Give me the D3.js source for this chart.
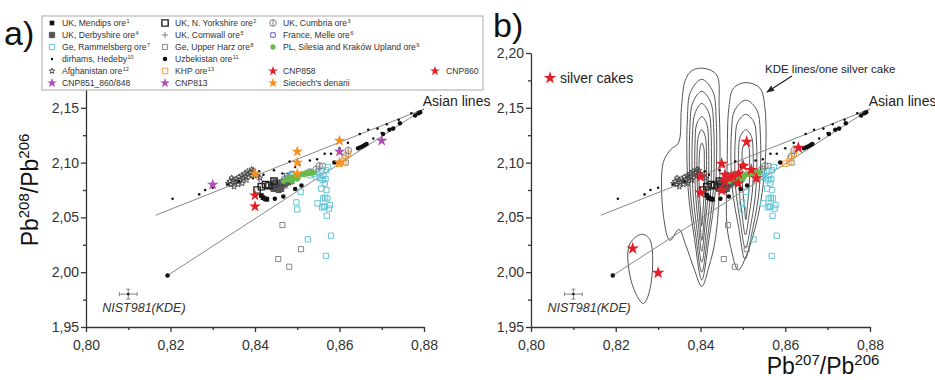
<!DOCTYPE html>
<html>
<head>
<meta charset="utf-8">
<script src="https://cdn.jsdelivr.net/npm/d3@7"></script>
<style>
  body { margin: 0; background: #fff; }
  svg { font-family: Arial, "Liberation Sans", sans-serif; }
</style>
</head>
<body>
<svg id="chart" width="935" height="380"></svg>
<script>
// ---- data ----
const xTicks = [0.80, 0.82, 0.84, 0.86, 0.88];
const yTicks = [1.95, 2.00, 2.05, 2.10, 2.15, 2.20];
const xMinor = [0.81, 0.83, 0.85, 0.87];
const yMinor = [1.975, 2.025, 2.075, 2.125, 2.175];

const asianUpper = [[0.8165, 2.052], [0.8800, 2.149]];
const asianLower = [[0.8193, 1.997], [0.8800, 2.149]];

const nist = [0.8100, 1.980];
const nistErr = [0.0021, 0.0045];

const mendips = [[0.8419, 2.068], [0.8424, 2.067], [0.8415, 2.070], [0.8428, 2.0665]];
const nYorkshire = [[0.8405, 2.075], [0.8415, 2.078], [0.8425, 2.080], [0.8433, 2.079], [0.8445, 2.083]];
const cumbria = [[0.8621, 2.111], [0.8615, 2.106], [0.8552, 2.097], [0.8545, 2.094], [0.8470, 2.085]];
const derbyshire = [[0.8440, 2.078], [0.8444, 2.076], [0.8447, 2.079], [0.8450, 2.077], [0.8452, 2.080],
  [0.8455, 2.078], [0.8458, 2.081], [0.8460, 2.079], [0.8463, 2.082], [0.8466, 2.080], [0.8469, 2.083],
  [0.8472, 2.081], [0.8475, 2.084], [0.8478, 2.082], [0.8482, 2.085], [0.8486, 2.083], [0.8448, 2.082],
  [0.8456, 2.075], [0.8462, 2.076], [0.8443, 2.081]];
const cornwall = [[0.8380, 2.090], [0.8395, 2.087], [0.8410, 2.085], [0.8460, 2.082], [0.8475, 2.080]];
const melle = [[0.8475, 2.088], [0.8488, 2.090], [0.8530, 2.092]];
const rammelsberg = [[0.8482, 2.0886], [0.8508, 2.0734], [0.8498, 2.0637], [0.8500, 2.0573], [0.8525, 2.030],
  [0.8548, 2.0628], [0.8557, 2.0763], [0.8565, 2.081], [0.8569, 2.0749], [0.8566, 2.068], [0.8561, 2.0673],
  [0.8571, 2.0673], [0.8577, 2.0612], [0.8565, 2.0597], [0.8559, 2.0591], [0.8570, 2.0515], [0.8580, 2.0333],
  [0.8568, 2.0148], [0.8563, 2.060], [0.8575, 2.058], [0.8530, 2.0885], [0.8540, 2.090], [0.8550, 2.0915],
  [0.8558, 2.0925], [0.8562, 2.088], [0.8573, 2.096], [0.8568, 2.093], [0.8553, 2.086], [0.8545, 2.087],
  [0.8560, 2.084], [0.8567, 2.085]];
const upperHarz = [[0.8465, 2.043], [0.8509, 2.021], [0.8455, 2.012], [0.8481, 2.005], [0.8445, 2.078],
  [0.8455, 2.077], [0.8470, 2.079], [0.8560, 2.097], [0.8615, 2.100]];
const silesia = [[0.8468, 2.083], [0.8474, 2.085], [0.8480, 2.084], [0.8485, 2.086], [0.8490, 2.087],
  [0.8494, 2.086], [0.8498, 2.088], [0.8503, 2.087], [0.8507, 2.089], [0.8512, 2.090], [0.8517, 2.089],
  [0.8522, 2.091], [0.8528, 2.090], [0.8533, 2.092], [0.8538, 2.091], [0.8478, 2.087], [0.8488, 2.083],
  [0.8500, 2.085]];
const dirhams = [[0.8205, 2.067], [0.8268, 2.071], [0.8282, 2.075], [0.8300, 2.077], [0.8335, 2.080],
  [0.8362, 2.083], [0.8395, 2.086], [0.8410, 2.092], [0.8420, 2.089], [0.8445, 2.093], [0.8465, 2.090],
  [0.8482, 2.101], [0.8495, 2.096], [0.8505, 2.098], [0.8530, 2.102], [0.8547, 2.103], [0.8565, 2.108],
  [0.8580, 2.108], [0.8600, 2.113], [0.8620, 2.118], [0.8648, 2.126], [0.8668, 2.130], [0.8690, 2.131],
  [0.8712, 2.135], [0.8740, 2.139], [0.8770, 2.145], [0.8680, 2.122], [0.8700, 2.127]];
const uzbekistan = [[0.8193, 1.997], [0.8447, 2.067], [0.8467, 2.069], [0.8510, 2.079], [0.8495, 2.076],
  [0.8588, 2.100], [0.8644, 2.113], [0.8650, 2.114], [0.8655, 2.115], [0.8660, 2.116], [0.8664, 2.117],
  [0.8703, 2.126], [0.8718, 2.130], [0.8727, 2.131], [0.8743, 2.136], [0.8779, 2.143], [0.8787, 2.145],
  [0.8791, 2.146]];
const afghanistan = [[0.8336, 2.081], [0.8340, 2.083], [0.8344, 2.080], [0.8348, 2.084], [0.8352, 2.082],
  [0.8355, 2.085], [0.8358, 2.083], [0.8362, 2.087], [0.8365, 2.084], [0.8368, 2.088], [0.8372, 2.086],
  [0.8375, 2.090], [0.8378, 2.087], [0.8382, 2.092], [0.8385, 2.089], [0.8388, 2.091], [0.8392, 2.088],
  [0.8396, 2.093], [0.8400, 2.090], [0.8405, 2.088], [0.8412, 2.086], [0.8350, 2.078], [0.8370, 2.081],
  [0.8345, 2.086], [0.8360, 2.080], [0.8380, 2.084], [0.8392, 2.094]];
const khp = [[0.8609, 2.101], [0.8612, 2.104], [0.8620, 2.108], [0.8600, 2.099]];

// coins, panel a
const cnp858 = [[0.8400, 2.070]];
const cnp860 = [[0.8400, 2.060]];
const cnp851 = [[0.8600, 2.110], [0.8700, 2.120]];
const cnp813 = [[0.8300, 2.080]];
const sieciech = [[0.8400, 2.090], [0.8500, 2.110], [0.8500, 2.100], [0.8500, 2.090], [0.8600, 2.120], [0.8600, 2.100]];

// silver cakes, panel b
const silverCakes = [[0.8240, 2.0216], [0.8300, 1.9994], [0.8400, 2.0872], [0.8400, 2.0726], [0.8450, 2.0990],
  [0.8450, 2.0748], [0.8458, 2.0888], [0.8458, 2.0827], [0.8477, 2.0872], [0.8490, 2.0900], [0.8489, 2.0812],
  [0.8501, 2.0970], [0.8509, 2.1190], [0.8520, 2.0933], [0.8532, 2.0857], [0.8631, 2.1135], [0.8470, 2.0860]];

// KDE contour rings for one silver cake, panel b
const kdeLeft = [
  [[0.8408, 2.186], [0.8438, 2.180], [0.8444, 2.150], [0.8445, 2.080], [0.8435, 2.030], [0.8420, 2.005],
   [0.8403, 1.987], [0.8385, 2.003], [0.8365, 2.025], [0.8349, 2.039], [0.8328, 2.029], [0.8313, 2.050],
   [0.8312, 2.100], [0.8330, 2.112], [0.8348, 2.118], [0.8355, 2.150], [0.8364, 2.175], [0.8380, 2.184]],
  [[0.8403, 2.176], [0.8429, 2.165], [0.8437, 2.139], [0.8435, 2.075], [0.8420, 2.030], [0.8403, 1.993],
   [0.8386, 2.030], [0.8371, 2.075], [0.8369, 2.139], [0.8377, 2.165]],
  [[0.8403, 2.165], [0.8424, 2.155], [0.8431, 2.132], [0.8430, 2.074], [0.8417, 2.033], [0.8403, 2.000],
   [0.8389, 2.033], [0.8376, 2.074], [0.8375, 2.132], [0.8382, 2.155]],
  [[0.8403, 2.154], [0.8420, 2.145], [0.8425, 2.125], [0.8424, 2.074], [0.8414, 2.038], [0.8403, 2.009],
   [0.8392, 2.038], [0.8382, 2.074], [0.8381, 2.125], [0.8387, 2.145]],
  [[0.8403, 2.142], [0.8415, 2.135], [0.8419, 2.117], [0.8418, 2.074], [0.8411, 2.044], [0.8403, 2.019],
   [0.8395, 2.044], [0.8388, 2.074], [0.8387, 2.117], [0.8391, 2.135]],
  [[0.8403, 2.130], [0.8411, 2.124], [0.8414, 2.110], [0.8413, 2.074], [0.8409, 2.049], [0.8403, 2.029],
   [0.8398, 2.049], [0.8393, 2.074], [0.8392, 2.110], [0.8395, 2.124]],
  [[0.8403, 2.118], [0.8408, 2.113], [0.8409, 2.103], [0.8409, 2.076], [0.8406, 2.057], [0.8403, 2.042],
   [0.8400, 2.057], [0.8397, 2.076], [0.8397, 2.103], [0.8399, 2.113]]
];
const kdeRight = [
  [[0.8507, 2.173], [0.8540, 2.168], [0.8552, 2.150], [0.8552, 2.096], [0.8535, 2.050], [0.8505, 2.012],
   [0.8489, 2.002], [0.8470, 2.025], [0.8462, 2.045], [0.8463, 2.100], [0.8467, 2.150], [0.8478, 2.168]],
  [[0.8507, 2.157], [0.8533, 2.148], [0.8541, 2.128], [0.8539, 2.077], [0.8524, 2.041], [0.8505, 2.012],
   [0.8490, 2.041], [0.8475, 2.077], [0.8473, 2.128], [0.8481, 2.148]],
  [[0.8507, 2.144], [0.8526, 2.137], [0.8532, 2.120], [0.8531, 2.077], [0.8520, 2.046], [0.8506, 2.022],
   [0.8494, 2.046], [0.8483, 2.077], [0.8482, 2.120], [0.8488, 2.137]],
  [[0.8507, 2.130], [0.8520, 2.124], [0.8524, 2.111], [0.8523, 2.077], [0.8515, 2.053], [0.8506, 2.034],
   [0.8498, 2.053], [0.8491, 2.077], [0.8490, 2.111], [0.8494, 2.124]],
  [[0.8507, 2.118], [0.8514, 2.114], [0.8516, 2.104], [0.8515, 2.080], [0.8511, 2.062], [0.8507, 2.048],
   [0.8503, 2.062], [0.8499, 2.080], [0.8498, 2.104], [0.8500, 2.114]]
];
const kdeSmall = [
  [[0.8232, 2.0248], [0.8261, 2.0346], [0.8281, 2.0294], [0.8282, 1.9867], [0.8265, 1.9715], [0.8238, 1.9898]]
];

// ---- symbols ----
const sym = (type, size) => d3.symbol(type, size)();
const shapes = {
  sqFill:   { d: sym(d3.symbolSquare, 22), fill: "#111", stroke: "none" },
  sqBold:   { d: sym(d3.symbolSquare, 40), fill: "none", stroke: "#222", sw: 1.4 },
  cumbria:  { d: sym(d3.symbolCircle, 34) + "M0,-3.3V3.3", fill: "none", stroke: "#777", sw: 0.9 },
  derby:    { d: sym(d3.symbolSquare, 28) + "M-2.6,0H2.6M0,-2.6V2.6", fill: "#666", stroke: "#444", sw: 0.8 },
  plus:     { d: "M-3,0H3M0,-3V3", fill: "none", stroke: "#666", sw: 0.8 },
  melle:    { d: sym(d3.symbolSquare, 20), fill: "none", stroke: "#6a5acd", sw: 1 },
  cyanSq:   { d: sym(d3.symbolSquare, 28), fill: "none", stroke: "#62c6d6", sw: 1 },
  graySq:   { d: sym(d3.symbolSquare, 26), fill: "none", stroke: "#888", sw: 1 },
  green:    { d: sym(d3.symbolCircle, 22), fill: "#66bb4a", stroke: "none" },
  dot:      { d: sym(d3.symbolCircle, 5), fill: "#111", stroke: "none" },
  bigDot:   { d: sym(d3.symbolCircle, 16), fill: "#111", stroke: "none" },
  openStar: { d: sym(d3.symbolStar, 10), fill: "none", stroke: "#444", sw: 0.9 },
  khp:      { d: sym(d3.symbolSquare, 30), fill: "none", stroke: "#f5a040", sw: 1 },
  redStar:  { d: sym(d3.symbolStar, 42), fill: "#e41e26", stroke: "none" },
  purStar:  { d: sym(d3.symbolStar, 42), fill: "#b04cb4", stroke: "none" },
  orStar:   { d: sym(d3.symbolStar, 42), fill: "#f7901e", stroke: "none" },
  cakeStar: { d: sym(d3.symbolStar, 50), fill: "#e41e26", stroke: "none" }
};

// ore series (both panels) in drawing order, with legend slot
const ores = [
  { label: "Ge, Upper Harz ore", sup: "8", data: upperHarz, shape: "graySq", row: 2, col: 1 },
  { label: "Ge, Rammelsberg ore", sup: "7", data: rammelsberg, shape: "cyanSq", row: 2, col: 0 },
  { label: "Afghanistan ore", sup: "12", data: afghanistan, shape: "openStar", row: 4, col: 0 },
  { label: "UK, Derbyshire ore", sup: "4", data: derbyshire, shape: "derby", row: 1, col: 0 },
  { label: "UK, Cornwall ore", sup: "5", data: cornwall, shape: "plus", row: 1, col: 1 },
  { label: "UK, Cumbria ore", sup: "3", data: cumbria, shape: "cumbria", row: 0, col: 2 },
  { label: "France, Melle ore", sup: "6", data: melle, shape: "melle", row: 1, col: 2 },
  { label: "KHP ore", sup: "13", data: khp, shape: "khp", row: 4, col: 1 },
  { label: "UK, N. Yorkshire ore", sup: "2", data: nYorkshire, shape: "sqBold", row: 0, col: 1 },
  { label: "UK, Mendips ore", sup: "1", data: mendips, shape: "sqFill", row: 0, col: 0 },
  { label: "PL, Silesia and Kraków Upland ore", sup: "9", data: silesia, shape: "green", row: 2, col: 2 },
  { label: "dirhams, Hedeby", sup: "10", data: dirhams, shape: "dot", row: 3, col: 0 },
  { label: "Uzbekistan ore", sup: "11", data: uzbekistan, shape: "bigDot", row: 3, col: 1 }
];
const coins = [
  { label: "CNP858", data: cnp858, shape: "redStar", row: 4, col: 2 },
  { label: "CNP860", data: cnp860, shape: "redStar", row: 4, col: 3 },
  { label: "CNP851_860/848", data: cnp851, shape: "purStar", row: 5, col: 0 },
  { label: "CNP813", data: cnp813, shape: "purStar", row: 5, col: 1 },
  { label: "Sieciech's denarii", data: sieciech, shape: "orStar", row: 5, col: 2 }
];

// ---- layout ----
const svg = d3.select("#chart");
const plotTop = 53, plotBottom = 327;
// panel a: the legend box sits over the top of the y axis, so its 2,20 label is not shown
const panels = [
  { x0: 86, x1: 424, tag: "a)", tagX: 4, tagY: 45, hideTopLabel: true },
  { x0: 531, x1: 870, tag: "b)", tagX: 493, tagY: 37, hideTopLabel: false }
];
const comma = d => d3.format(".2f")(d).replace(".", ",");

function mark(g, data, shapeKey, x, y) {
  const s = shapes[shapeKey];
  g.append("g").selectAll("path").data(data).join("path")
    .attr("transform", d => `translate(${x(d[0])},${y(d[1])})`)
    .attr("d", s.d)
    .attr("fill", s.fill)
    .attr("stroke", s.stroke)
    .attr("stroke-width", s.sw || 1);
}

function drawPanel(p, i) {
  const x = d3.scaleLinear().domain([0.80, 0.88]).range([p.x0, p.x1]);
  const y = d3.scaleLinear().domain([1.95, 2.20]).range([plotBottom, plotTop]);
  const g = svg.append("g");

  // KDE contours (panel b only)
  if (i === 1) {
    const ring = d3.line().x(d => x(d[0])).y(d => y(d[1])).curve(d3.curveCatmullRomClosed.alpha(0.5));
    g.append("g").selectAll("path").data(kdeLeft.concat(kdeRight, kdeSmall)).join("path")
      .attr("d", ring)
      .attr("fill", "none")
      .attr("stroke", "#555")
      .attr("stroke-width", 1);
  }

  // Asian lines
  const line = d3.line().x(d => x(d[0])).y(d => y(d[1]));
  g.selectAll(".asian").data([asianUpper, asianLower]).join("path")
    .attr("d", line).attr("fill", "none").attr("stroke", "#888").attr("stroke-width", 1);

  ores.forEach(s => mark(g, s.data, s.shape, x, y));
  if (i === 0) coins.forEach(s => mark(g, s.data, s.shape, x, y));
  else mark(g, silverCakes, "cakeStar", x, y);

  // NIST981 error bar
  const eb = g.append("g").attr("stroke", "#777").attr("stroke-width", 0.9);
  const nx = x(nist[0]), ny = y(nist[1]);
  const ex = x(nist[0] + nistErr[0]) - nx, ey = ny - y(nist[1] + nistErr[1]);
  eb.append("path").attr("d", `M${nx - ex},${ny}H${nx + ex}M${nx},${ny - ey}V${ny + ey}` +
    `M${nx - ex},${ny - 2}V${ny + 2}M${nx + ex},${ny - 2}V${ny + 2}M${nx - 2},${ny - ey}H${nx + 2}M${nx - 2},${ny + ey}H${nx + 2}`);
  g.append("circle").attr("cx", nx).attr("cy", ny).attr("r", 1.3).attr("fill", "#222");
  g.append("text").attr("x", x(nist[0]) - 26).attr("y", y(1.9635))
    .attr("font-size", 12.5).attr("font-style", "italic").attr("fill", "#333").text("NIST981(KDE)");

  g.append("text").attr("x", x(0.8797)).attr("y", y(2.1515)).attr("font-size", 14).attr("fill", "#222")
    .text("Asian lines");

  // axes
  const yLabel = d => (p.hideTopLabel && d === 2.20) ? "" : comma(d);
  const ax = g.append("g").attr("transform", `translate(0,${plotBottom})`)
    .call(d3.axisBottom(x).tickValues(xTicks).tickFormat(comma).tickSize(5).tickSizeOuter(0));
  g.append("g").attr("transform", `translate(0,${plotBottom})`)
    .call(d3.axisBottom(x).tickValues(xMinor).tickFormat("").tickSize(3).tickSizeOuter(0))
    .select(".domain").remove();
  const ay = g.append("g").attr("transform", `translate(${p.x0},0)`)
    .call(d3.axisLeft(y).tickValues(yTicks).tickFormat(yLabel).tickSize(5).tickSizeOuter(0));
  g.append("g").attr("transform", `translate(${p.x0},0)`)
    .call(d3.axisLeft(y).tickValues(yMinor).tickFormat("").tickSize(3).tickSizeOuter(0))
    .select(".domain").remove();
  g.selectAll(".domain, .tick line").attr("stroke", "#333").attr("stroke-width", 1.3);
  ax.selectAll("text").attr("font-size", 14).attr("fill", "#333").attr("dy", "1.05em")
    .attr("font-family", "Arial, 'Liberation Sans', sans-serif");
  ay.selectAll("text").attr("font-size", 14).attr("fill", "#333").attr("x", -7)
    .attr("font-family", "Arial, 'Liberation Sans', sans-serif");

  svg.append("text").attr("x", p.tagX).attr("y", p.tagY).attr("font-size", 34).attr("fill", "#111").text(p.tag);
}
panels.forEach(drawPanel);

// axis titles with superscripts
function ratioTitle(t, a, b) {
  t.append("tspan").text("Pb");
  t.append("tspan").attr("font-size", 15).attr("dy", -9).text(a);
  t.append("tspan").attr("dy", 9).text("/Pb");
  t.append("tspan").attr("font-size", 15).attr("dy", -9).text(b);
}
ratioTitle(svg.append("text").attr("font-size", 23).attr("fill", "#111")
  .attr("text-anchor", "middle").attr("transform", "translate(38,190) rotate(-90)"), "208", "206");
ratioTitle(svg.append("text").attr("font-size", 23).attr("fill", "#111")
  .attr("text-anchor", "middle").attr("x", 823).attr("y", 374), "207", "206");

// panel b annotations
svg.append("path").attr("d", shapes.cakeStar.d).attr("fill", "#e41e26")
  .attr("transform", "translate(550,78)");
svg.append("text").attr("x", 560).attr("y", 83).attr("font-size", 14).attr("fill", "#222").text("silver cakes");
svg.append("text").attr("x", 765).attr("y", 73).attr("font-size", 11.5).attr("fill", "#222")
  .text("KDE lines/one silver cake");
svg.append("defs").append("marker").attr("id", "arr").attr("viewBox", "0 0 10 10")
  .attr("refX", 9).attr("refY", 5).attr("markerWidth", 6).attr("markerHeight", 6).attr("orient", "auto")
  .append("path").attr("d", "M0,1L10,5L0,9z").attr("fill", "#222");
svg.append("line").attr("x1", 792).attr("y1", 76).attr("x2", 767).attr("y2", 92)
  .attr("stroke", "#222").attr("stroke-width", 1.3).attr("marker-end", "url(#arr)");

// legend
const colSym = [52, 165, 273, 435], colText = [62, 175, 283, 446];
const rowY = d => 23 + d * 12;
const leg = svg.append("g");
leg.append("rect").attr("x", 42).attr("y", 16).attr("width", 441).attr("height", 74)
  .attr("fill", "#fff").attr("stroke", "#aaa").attr("stroke-width", 1);
const items = ores.concat(coins);
items.forEach(s => {
  const sh = shapes[s.shape];
  const scale = s.shape.endsWith("Star") && s.shape !== "openStar" ? 0.85 : 1;
  leg.append("path").attr("d", sh.d)
    .attr("transform", `translate(${colSym[s.col]},${rowY(s.row)}) scale(${scale})`)
    .attr("fill", sh.fill).attr("stroke", sh.stroke).attr("stroke-width", sh.sw || 1);
  const t = leg.append("text").attr("x", colText[s.col]).attr("y", rowY(s.row) + 3)
    .attr("font-size", 8.6).attr("fill", "#333").text(s.label);
  if (s.sup) {
    const w = t.node().getComputedTextLength();
    leg.append("text").attr("x", colText[s.col] + w + 0.5).attr("y", rowY(s.row) - 0.5)
      .attr("font-size", 5.5).attr("fill", "#333").text(s.sup);
  }
});
</script>
</body>
</html>
